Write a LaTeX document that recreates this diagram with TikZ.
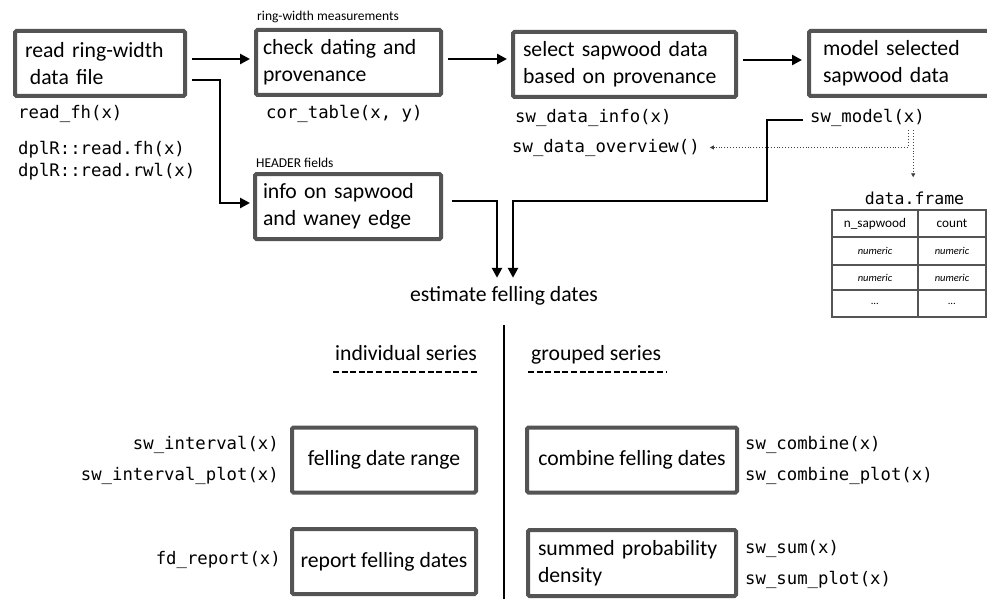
\documentclass[tikz,border=0pt]{standalone}
\usepackage{fontspec}
\setmainfont{Carlito}
\newfontfamily\monof{DejaVu Sans Mono}
\usetikzlibrary{arrows.meta,calc}
\definecolor{boxgray}{RGB}{84,84,84}
\newcommand\mainsz{\fontsize{21.7pt}{27pt}\selectfont}
\newcommand\codesz{\monof\fontsize{17.3pt}{22pt}\selectfont}
\newcommand\smallsz{\fontsize{13.5pt}{16pt}\selectfont}
\newcommand\cellsz{\fontsize{13.2pt}{15pt}\selectfont}
\newcommand\cellit{\fontsize{10.5pt}{12pt}\selectfont\itshape}

\begin{document}
\begin{tikzpicture}[x=1pt,y=-1pt,
  box/.style={draw=boxgray,line width=4pt,rounded corners=1.5pt,minimum height=65pt,
    font=\mainsz,align=left,inner ysep=0pt,outer sep=0pt},
  code/.style={font=\codesz,inner sep=0pt},
  lbl/.style={font=\mainsz,inner sep=0pt},
  small/.style={font=\smallsz,inner sep=0pt},
  arr/.style={line width=2.6pt,-{Triangle[length=10pt,width=10pt]}},
  dotarr/.style={line width=0.9pt,dotted,draw=black!75,-{Triangle[length=4pt,width=4pt]}},
  cell/.style={draw=boxgray,line width=1.2pt,anchor=north west,inner sep=0pt,outer sep=0pt},
  dashline/.style={line width=1.3pt,dash pattern=on 6pt off 2.6pt},
]
\fill[white] (0,0) rectangle (987,599);
\useasboundingbox (0,0) rectangle (987,599);

% top row boxes
\node[box, text width=150pt, inner xsep=10pt] (b1) at (100,63.5) {read ring-width\\\hspace*{4.9pt}data file};
\node[box, text width=171pt, inner xsep=7pt] (b2) at (348.5,62.5) {check dating and\\provenance};
\node[box, text width=203pt, inner xsep=10pt] (b3) at (624.5,64.5) {select sapwood data\\based on provenance};
\node[box, text width=170pt, inner xsep=14pt] (b4) at (908,63.5) {model selected\\sapwood data};
\node[box, text width=170pt, inner xsep=8pt] (info) at (348,206.5) {info on sapwood\\and waney edge};

% bottom boxes
\node[box, minimum width=184pt, align=center] (fdr) at (384,460) {felling date range};
\node[box, minimum width=184pt, align=center] (rfd) at (384,561.5) {report felling dates};
\node[box, minimum width=210pt, align=center] (cfd) at (632,460) {combine felling dates};
\node[box, text width=188pt, inner xsep=10pt, minimum height=66pt] (spd) at (632,563) {summed probability\\density};

% small labels
\node[small, anchor=base west] (rwm) at (257,21) {ring-width measurements};
\node[small, anchor=base west] (hdr) at (256,167) {HEADER fields};

% code labels top
\node[code, anchor=base west] (rfh) at (18,118) {read\_fh(x)};
\node[code, anchor=base west] (dfh) at (18,154) {dplR::read.fh(x)};
\node[code, anchor=base west] (drwl) at (18,176) {dplR::read.rwl(x)};
\node[code, anchor=base west] (cor) at (266,118) {cor\_table(x, y)};
\node[code, anchor=base west] (swi) at (515,123) {sw\_data\_info(x)};
\node[code, anchor=base west] (swo) at (512,152) {sw\_data\_overview()};
\node[code, anchor=base west] (swm) at (810,122) {sw\_model(x)};
\node[font=\monof\fontsize{16.5pt}{18pt}\selectfont, inner sep=0pt, anchor=base] (df) at (914.5,204) {data.frame};

% estimate
\node[lbl, anchor=base, text height=15pt, text depth=5pt] (est) at (504,301) {estimate felling dates};
\coordinate (bot) at (504,603);
\draw[line width=2.2pt, shorten <=19pt] (est.south) -- (bot);

% section headers with dashed underline
\node[lbl, anchor=base west] (ind) at (335,360) {individual series};
\draw[dashline] ([shift={(-2,12)}]ind.base west) -- ([shift={(1,12)}]ind.base east);
\node[lbl, anchor=base west] (grp) at (531,360) {grouped series};
\draw[dashline] ([shift={(-3,12)}]grp.base west) -- ([shift={(5,12)}]grp.base east);

% bottom code labels
\node[code, anchor=base east] (swint) at (279,449) {sw\_interval(x)};
\node[code, anchor=base east] (swintp) at (279,480) {sw\_interval\_plot(x)};
\node[code, anchor=base east] (fdrep) at (281,564) {fd\_report(x)};
\node[code, anchor=base west] (swc) at (745,449) {sw\_combine(x)};
\node[code, anchor=base west] (swcp) at (745,480) {sw\_combine\_plot(x)};
\node[code, anchor=base west] (sws) at (745,553) {sw\_sum(x)};
\node[code, anchor=base west] (swsp) at (745,584) {sw\_sum\_plot(x)};

% table
\node[cell, minimum width=86pt, minimum height=27pt, font=\cellsz] (t11) at (832,210) {n\_sapwood};
\node[cell, minimum width=68pt, minimum height=27pt, font=\cellsz] (t12) at (918,210) {count};
\node[cell, minimum width=86pt, minimum height=28pt, font=\cellit] (t21) at (832,237) {numeric};
\node[cell, minimum width=68pt, minimum height=28pt, font=\cellit] (t22) at (918,237) {numeric};
\node[cell, minimum width=86pt, minimum height=25pt, font=\cellit] (t31) at (832,265) {numeric};
\node[cell, minimum width=68pt, minimum height=25pt, font=\cellit] (t32) at (918,265) {numeric};
\node[cell, minimum width=86pt, minimum height=27pt, font=\cellit] (t41) at (832,290) {...};
\node[cell, minimum width=68pt, minimum height=27pt, font=\cellit] (t42) at (918,290) {...};

% arrows
\coordinate (a1s) at ([shift={(7,-4.5)}]b1.east);
\draw[arr, shorten >=6pt] (a1s) -- (a1s -| b2.west);
\coordinate (a2s) at ([shift={(7,-3.5)}]b2.east);
\draw[arr, shorten >=6pt] (a2s) -- (a2s -| b3.west);
\coordinate (a3s) at ([shift={(7,-4.5)}]b3.east);
\draw[arr, shorten >=7pt] (a3s) -- (a3s -| b4.west);
\coordinate (a4s) at ([shift={(7,16.5)}]b1.east);
\coordinate (a4k) at ([xshift=28pt]a4s);
\draw[arr, shorten >=5pt] (a4s) -- (a4k) |- ([yshift=3.5pt]info.west);
\coordinate (a5s) at ([shift={(11,-5.5)}]info.east);
\draw[arr, shorten >=8pt] (a5s) -| ([xshift=-7pt]est.north);
\coordinate (j1) at (767,201);
\draw[arr, shorten >=8pt] ([shift={(-7,2.4)}]swm.west) -| (j1) -| ([xshift=9pt]est.north);

% dotted
\coordinate (d1) at ([shift={(40.7,4)}]swm.south);
\coordinate (d2) at ([shift={(45.7,4)}]swm.south);
\draw[dotarr, shorten >=10pt] (d1) |- (swo.east);
\draw[dotarr, shorten >=14pt] (d2) -- (d2 |- df.north);
\end{tikzpicture}
\end{document}
